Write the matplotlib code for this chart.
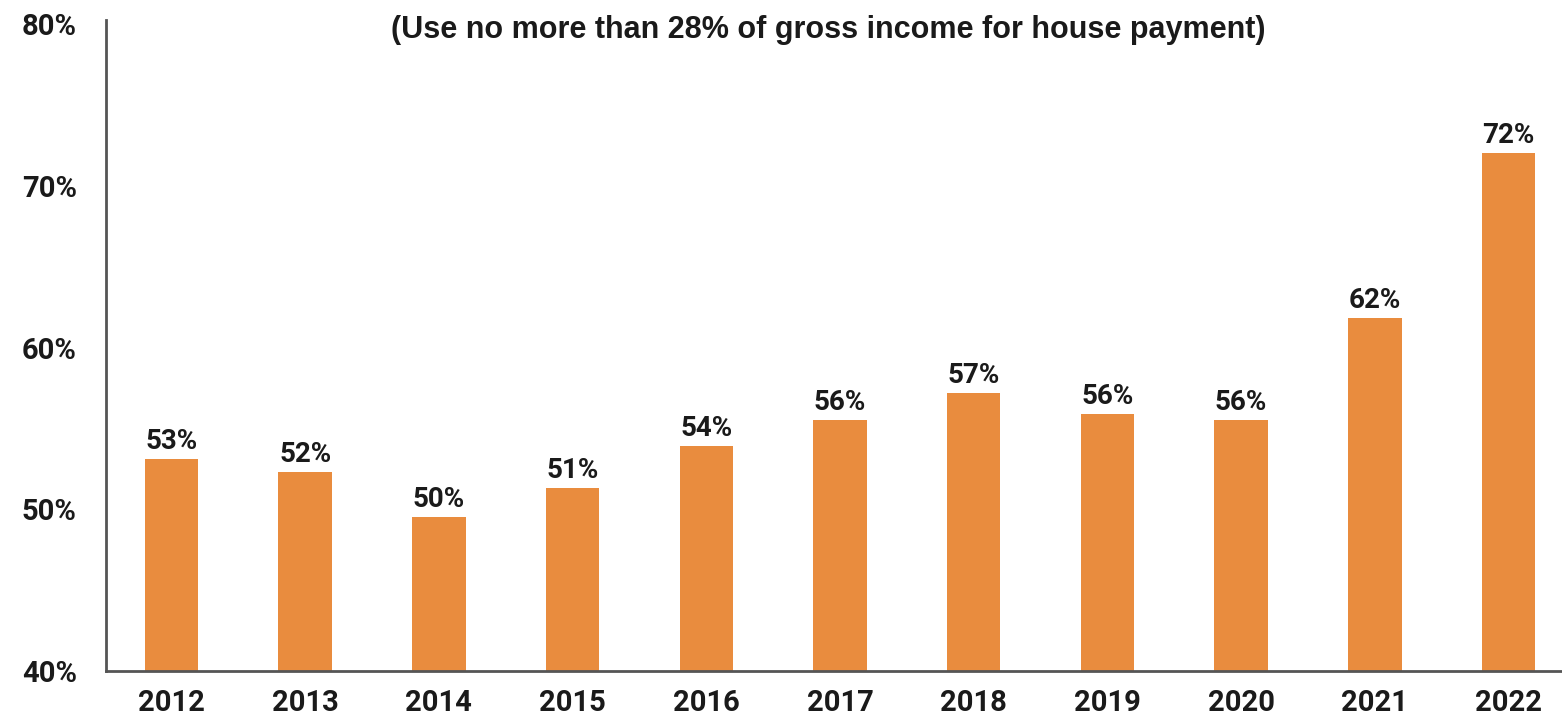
import matplotlib
matplotlib.use("Agg")
import matplotlib.pyplot as plt

# data
years = ['2012', '2013', '2014', '2015', '2016', '2017', '2018', '2019', '2020', '2021', '2022']
bar_values = [53.1, 52.3, 49.5, 51.3, 53.9, 55.5, 57.2, 55.9, 55.5, 61.8, 72.0]
bar_labels = ['53%', '52%', '50%', '51%', '54%', '56%', '57%', '56%', '56%', '62%', '72%']
y_ticks = [40, 50, 60, 70, 80]
title = '(Use no more than 28% of gross income for house payment)'

bar_color = '#E98C3E'
spine_color = '#555555'
text_color = '#1a1a1a'

fig = plt.figure(figsize=(15.62, 7.18), dpi=100)
ax = fig.add_axes([106 / 1562, 1 - 671 / 718, 1 - 106 / 1562, (671 - 20) / 718])

x = list(range(len(years)))
ax.bar(x, bar_values, width=0.4, color=bar_color, zorder=2)

# value labels above bars
for xi, v, lab in zip(x, bar_values, bar_labels):
    ax.text(xi, v + 0.25, lab, ha='center', va='bottom', fontsize=20,
            fontweight='bold', family='Roboto', color=text_color)

ax.set_xlim(-0.49, 10.4)
ax.set_ylim(40, 80.25)
ax.set_xticks(x)
ax.set_xticklabels(years, fontsize=21, fontweight='bold', family='Roboto', color=text_color)
ax.set_yticks(y_ticks)
ax.set_yticklabels(['{}%'.format(t) for t in y_ticks], fontsize=21, fontweight='bold',
                   family='Roboto', color=text_color)
ax.tick_params(axis='both', length=0)
ax.tick_params(axis='x', pad=13)
ax.tick_params(axis='y', pad=21)

for side in ['top', 'right']:
    ax.spines[side].set_visible(False)
for side in ['left', 'bottom']:
    ax.spines[side].set_color(spine_color)
    ax.spines[side].set_linewidth(2)

fig.text(828 / 1562, 1 - 30 / 718, title, ha='center', va='center', fontsize=22,
         fontweight='bold', family='Liberation Sans', color=text_color)

fig.savefig('out.png', dpi=100)
plt.close(fig)
